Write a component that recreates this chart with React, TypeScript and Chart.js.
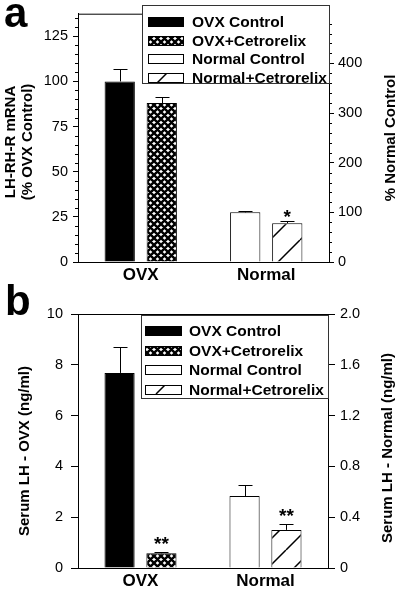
import React, { useEffect, useRef } from 'react';
import { Chart, registerables } from 'chart.js';
Chart.register(...registerables);

const FONT = "'Liberation Sans', Arial, Helvetica, sans-serif";

// ---------- data ----------
const categories = ['OVX', 'Normal'];
const seriesLabels = ['OVX Control', 'OVX+Cetrorelix', 'Normal Control', 'Normal+Cetrorelix'];

// Panel a: LH-RH-R mRNA
const aOvxValues = [100, 88]; // OVX Control, OVX+Cetrorelix (% OVX Control, left axis)
const aOvxErrTop = [107, 91.3];
const aNormalValues = [100, 78]; // Normal Control, Normal+Cetrorelix (% Normal Control, right axis)
const aNormalErrTop = [102.5, 83.5];
const aMarks = ['', '', '', '*'];
const aLeftTicks = [0, 25, 50, 75, 100, 125];
const aRightTicks = [0, 100, 200, 300, 400];
const aLeftTitle = ['LH-RH-R mRNA', '(% OVX Control)'];
const aRightTitle = ['% Normal Control'];

// Panel b: Serum LH
const bOvxValues = [7.68, 0.58];
const bOvxErrTop = [8.72, 0.62];
const bNormalValues = [0.567, 0.3];
const bNormalErrTop = [0.654, 0.347];
const bMarks = ['', '**', '', '**'];
const bLeftTicks = [0, 2, 4, 6, 8, 10];
const bRightTicks = [0, 0.4, 0.8, 1.2, 1.6, 2.0];
const bRightTickLabels = ['0', '0.4', '0.8', '1.2', '1.6', '2.0'];
const bLeftTitle = ['Serum LH - OVX (ng/ml)'];
const bRightTitle = ['Serum LH - Normal (ng/ml)'];

// ---------- patterns ----------
function crossPattern(ctx: CanvasRenderingContext2D) {
  const s = 7;
  const c = document.createElement('canvas');
  c.width = s;
  c.height = s;
  const g = c.getContext('2d')!;
  g.fillStyle = '#fff';
  g.fillRect(0, 0, s, s);
  g.strokeStyle = '#000';
  g.lineWidth = 2.4;
  g.beginPath();
  for (let o = -s; o <= s; o += s) {
    g.moveTo(o, 0);
    g.lineTo(o + s, s);
    g.moveTo(o + s, 0);
    g.lineTo(o, s);
  }
  g.stroke();
  return ctx.createPattern(c, 'repeat')!;
}

function diagPattern(ctx: CanvasRenderingContext2D, s: number) {
  const c = document.createElement('canvas');
  c.width = s;
  c.height = s;
  const g = c.getContext('2d')!;
  g.fillStyle = '#fff';
  g.fillRect(0, 0, s, s);
  g.strokeStyle = '#000';
  g.lineWidth = 1.5;
  g.beginPath();
  for (let o = -s; o <= s; o += s) {
    g.moveTo(o, s);
    g.lineTo(o + s, 0);
  }
  g.stroke();
  return ctx.createPattern(c, 'repeat')!;
}

// ---------- decoration plugin ----------
const decorPlugin = {
  id: 'decor',
  afterDatasetsDraw(chart: any, _args: any, opts: any) {
    const ctx: CanvasRenderingContext2D = chart.ctx;
    const ca = chart.chartArea;
    ctx.save();
    ctx.strokeStyle = '#000';
    ctx.fillStyle = '#000';
    ctx.lineWidth = 1;

    // top frame
    ctx.beginPath();
    ctx.moveTo(ca.left - opts.topExtend, ca.top + 0.5);
    ctx.lineTo(ca.right, ca.top + 0.5);
    ctx.stroke();

    // minor ticks
    const drawMinor = (scale: any, step: number, majorStep: number, max: number, side: number) => {
      if (!step) return;
      const n = Math.round(max / step);
      ctx.beginPath();
      for (let k = 1; k < n; k++) {
        const v = k * step;
        if (Math.abs(v / majorStep - Math.round(v / majorStep)) < 1e-6) continue;
        const y = Math.round(scale.getPixelForValue(v)) + 0.5;
        const x0 = side < 0 ? ca.left : ca.right;
        ctx.moveTo(x0, y);
        ctx.lineTo(x0 + side * 3, y);
      }
      ctx.stroke();
    };
    drawMinor(chart.scales.y, opts.leftMinor, opts.leftMajor, opts.leftMax, -1);
    drawMinor(chart.scales.y2, opts.rightMinor, opts.rightMajor, opts.rightMax, 1);

    // error bars + significance marks
    chart.data.datasets.forEach((ds: any, i: number) => {
      const meta = chart.getDatasetMeta(i);
      const scale = chart.scales[ds.yAxisID];
      meta.data.forEach((el: any, j: number) => {
        const v = ds.data[j];
        if (v == null) return;
        const yTop = Math.round(scale.getPixelForValue(ds.errTop[j])) + 0.5;
        const x = Math.round(el.x) + 0.5;
        ctx.beginPath();
        ctx.moveTo(x, el.y);
        ctx.lineTo(x, yTop);
        ctx.moveTo(x - opts.cap, yTop);
        ctx.lineTo(x + opts.cap, yTop);
        ctx.stroke();
        if (ds.mark) {
          ctx.font = `bold 19px ${FONT}`;
          ctx.textAlign = 'center';
          ctx.textBaseline = 'alphabetic';
          ctx.fillText(ds.mark, el.x, yTop - opts.markGap + 11);
        }
      });
    });

    // legend
    const L = opts.legend;
    ctx.fillStyle = '#fff';
    ctx.fillRect(L.left, L.top, ca.right - L.left, L.bottom - L.top);
    ctx.strokeStyle = '#333';
    ctx.strokeRect(L.left + 0.5, L.top + 0.5, ca.right - L.left, L.bottom - L.top);
    ctx.strokeStyle = '#000';
    chart.data.datasets.forEach((ds: any, i: number) => {
      const cy = L.y0 + i * L.step;
      const sx = L.left + L.swX;
      const sy = Math.round(cy - 5);
      ctx.fillStyle = ds.backgroundColor;
      ctx.fillRect(sx, sy, L.swW, 10);
      ctx.strokeRect(sx + 0.5, sy + 0.5, L.swW - 1, 9);
      ctx.fillStyle = '#000';
      ctx.font = `bold 15.5px ${FONT}`;
      ctx.textAlign = 'left';
      ctx.textBaseline = 'middle';
      ctx.fillText(ds.label, L.left + L.textX, cy + 1);
    });

    // axis titles
    ctx.font = `bold 15px ${FONT}`;
    ctx.textAlign = 'center';
    ctx.textBaseline = 'middle';
    ctx.fillStyle = '#000';
    const drawTitle = (lines: string[], xs: number[], y: number) => {
      lines.forEach((t, k) => {
        ctx.save();
        ctx.translate(xs[k], y);
        ctx.rotate(-Math.PI / 2);
        ctx.fillText(t, 0, 0);
        ctx.restore();
      });
    };
    drawTitle(opts.leftTitle, opts.leftTitleX, opts.leftTitleY);
    drawTitle(opts.rightTitle, opts.rightTitleX, opts.rightTitleY);

    ctx.restore();
  },
};

function makeChart(canvas: HTMLCanvasElement, p: any) {
  const ctx = canvas.getContext('2d')!;
  const fills = ['#000', crossPattern(ctx), '#fff', diagPattern(ctx, p.diag)];
  const datasets = seriesLabels.map((label, i) => {
    const isOvx = i < 2;
    const k = i % 2;
    const data = isOvx ? [p.ovx[k], null] : [null, p.normal[k]];
    const errTop = isOvx ? [p.ovxErr[k], null] : [null, p.normalErr[k]];
    return {
      label,
      data,
      errTop,
      mark: p.marks[i],
      yAxisID: isOvx ? 'y' : 'y2',
      backgroundColor: fills[i],
      borderColor: '#000',
      borderWidth: 1,
      skipNull: true,
      categoryPercentage: 0.67,
      barPercentage: 0.72,
    };
  });

  const tickFont = { family: FONT, size: 14.5 };

  return new Chart(canvas, {
    type: 'bar',
    data: { labels: categories, datasets: datasets as any },
    plugins: [decorPlugin],
    options: {
      animation: false,
      responsive: false,
      maintainAspectRatio: false,
      devicePixelRatio: 1,
      layout: { padding: { top: p.top, left: 0, right: 0, bottom: 0 } },
      plugins: {
        legend: { display: false },
        tooltip: { enabled: false },
        decor: {
          topExtend: p.topExtend,
          leftMinor: p.leftMinor,
          leftMajor: p.leftTicks[1],
          leftMax: p.leftMax,
          rightMinor: p.rightMinor,
          rightMajor: p.rightTicks[1],
          rightMax: p.rightMax,
          cap: 7,
          markGap: p.markGap,
          legend: p.legend,
          leftTitle: p.leftTitle,
          leftTitleX: p.leftTitleX,
          leftTitleY: p.leftTitleY,
          rightTitle: p.rightTitle,
          rightTitleX: p.rightTitleX,
          rightTitleY: p.rightTitleY,
        },
      } as any,
      scales: {
        x: {
          type: 'category',
          offset: true,
          grid: { display: false, drawTicks: false },
          border: { display: true, color: '#000', width: 1 },
          ticks: { color: '#000', font: { family: FONT, size: 17, weight: 'bold' }, padding: 3 },
          afterFit: (s: any) => {
            s.height = p.xHeight;
          },
        },
        y: {
          type: 'linear',
          position: 'left',
          min: 0,
          max: p.leftMax,
          afterBuildTicks: (s: any) => {
            s.ticks = p.leftTicks.map((v: number) => ({ value: v }));
          },
          ticks: {
            autoSkip: false,
            color: '#000',
            font: tickFont,
            padding: p.leftPad,
            callback: (v: any) => String(v),
          },
          grid: { drawOnChartArea: false, drawTicks: true, tickLength: p.tick, color: '#000', tickColor: '#000' },
          border: { display: true, color: '#000', width: 1 },
          afterFit: (s: any) => {
            s.width = p.left;
          },
        },
        y2: {
          type: 'linear',
          position: 'right',
          min: 0,
          max: p.rightMax,
          afterBuildTicks: (s: any) => {
            s.ticks = p.rightTicks.map((v: number) => ({ value: v }));
          },
          ticks: {
            autoSkip: false,
            color: '#000',
            font: tickFont,
            padding: p.rightPad,
            callback: (v: any, idx: number) => (p.rightLabels ? p.rightLabels[idx] : String(v)),
          },
          grid: { drawOnChartArea: false, drawTicks: true, tickLength: p.tick, color: '#000', tickColor: '#000' },
          border: { display: true, color: '#000', width: 1 },
          afterFit: (s: any) => {
            s.width = 400 - p.right;
          },
        },
      },
    } as any,
  });
}

const panelA = {
  ovx: aOvxValues,
  ovxErr: aOvxErrTop,
  normal: aNormalValues,
  normalErr: aNormalErrTop,
  marks: aMarks,
  leftTicks: aLeftTicks,
  rightTicks: aRightTicks,
  rightLabels: null,
  leftMax: 137.5,
  rightMax: 500,
  leftMinor: 5,
  rightMinor: 20,
  top: 5,
  left: 78,
  right: 329,
  xHeight: 28,
  tick: 5,
  leftPad: 5,
  rightPad: 4,
  topExtend: 0,
  diag: 30,
  markGap: 10,
  legend: { left: 142, top: 5, bottom: 83, y0: 22, step: 18.5, swX: 6, swW: 36, textX: 50 },
  leftTitle: aLeftTitle,
  leftTitleX: [11, 28],
  leftTitleY: 142,
  rightTitle: aRightTitle,
  rightTitleX: [391],
  rightTitleY: 138,
};

const panelB = {
  ovx: bOvxValues,
  ovxErr: bOvxErrTop,
  normal: bNormalValues,
  normalErr: bNormalErrTop,
  marks: bMarks,
  leftTicks: bLeftTicks,
  rightTicks: bRightTicks,
  rightLabels: bRightTickLabels,
  leftMax: 10,
  rightMax: 2,
  leftMinor: 0,
  rightMinor: 0,
  top: 24,
  left: 78,
  right: 328,
  xHeight: 29,
  tick: 7,
  leftPad: 8,
  rightPad: 5,
  topExtend: 7,
  diag: 26,
  markGap: 14,
  legend: { left: 141, top: 25, bottom: 108, y0: 41, step: 19.5, swX: 4, swW: 37, textX: 48 },
  leftTitle: bLeftTitle,
  leftTitleX: [25],
  leftTitleY: 161,
  rightTitle: bRightTitle,
  rightTitleX: [388],
  rightTitleY: 158,
};

export default function App() {
  const refA = useRef<HTMLCanvasElement>(null);
  const refB = useRef<HTMLCanvasElement>(null);

  useEffect(() => {
    const ca = makeChart(refA.current!, panelA);
    const cb = makeChart(refB.current!, panelB);
    return () => {
      ca.destroy();
      cb.destroy();
    };
  }, []);

  const letter: React.CSSProperties = {
    position: 'absolute',
    fontFamily: FONT,
    fontWeight: 'bold',
    fontSize: 42,
    lineHeight: '42px',
    color: '#000',
    margin: 0,
  };

  return (
    <div style={{ position: 'absolute', left: 0, top: 0, width: 400, height: 597, background: '#fff', overflow: 'hidden' }}>
      <canvas ref={refA} width={400} height={290} style={{ position: 'absolute', left: 0, top: 0, width: 400, height: 290 }} />
      <canvas ref={refB} width={400} height={307} style={{ position: 'absolute', left: 0, top: 290, width: 400, height: 307 }} />
      <div style={{ ...letter, left: 4, top: -8 }}>a</div>
      <div style={{ ...letter, left: 5, top: 280 }}>b</div>
    </div>
  );
}
